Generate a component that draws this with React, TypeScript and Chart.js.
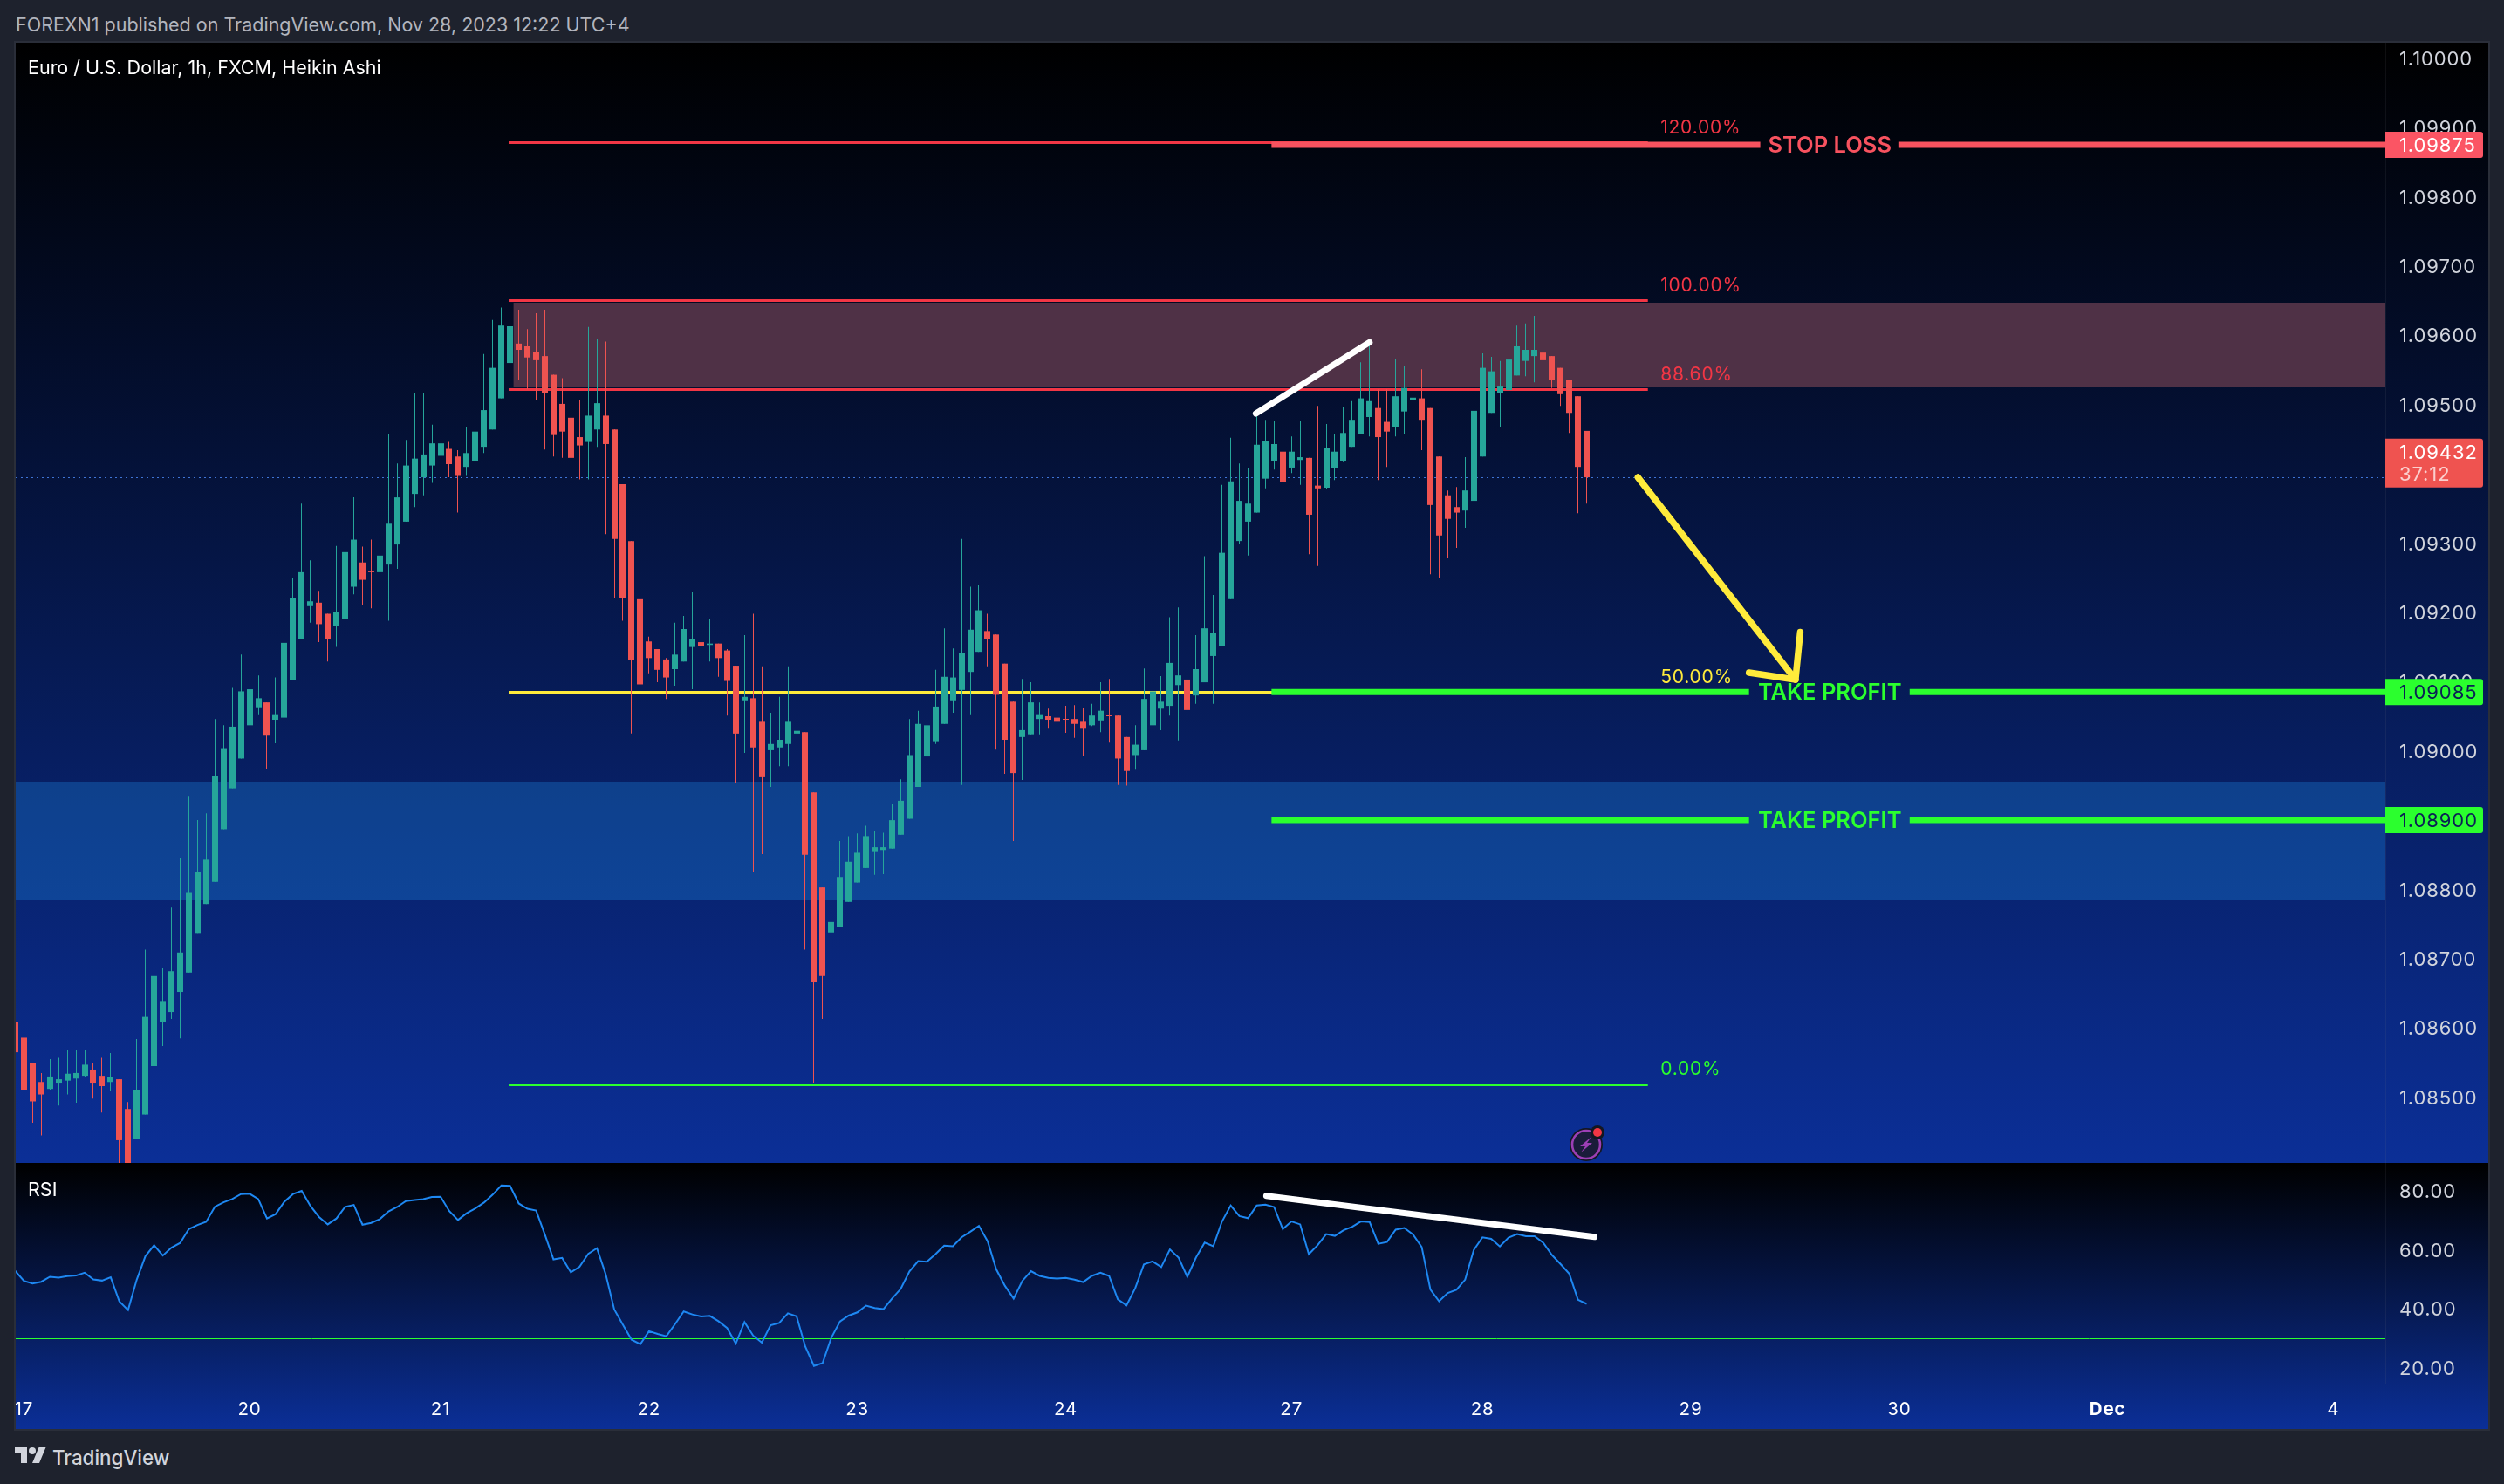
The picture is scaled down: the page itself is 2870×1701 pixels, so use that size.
import React, { useEffect, useRef } from "react";
import { Chart, registerables } from "chart.js";

Chart.register(...registerables);

const FONT = "Inter, 'Noto Sans', sans-serif";

const open = [
  1.08608,1.08586,1.08549,1.08522,1.08512,1.08521,1.08524,1.08527,1.08531,1.08540,
  1.08531,1.08522,1.08526,1.08483,1.08440,1.08475,1.08545,1.08609,1.08623,1.08652,
  1.08680,1.08736,1.08779,1.08811,1.08887,1.08946,1.08989,1.09037,1.09063,1.09070,
  1.09045,1.09048,1.09102,1.09161,1.09209,1.09214,1.09198,1.09180,1.09190,1.09237,
  1.09272,1.09260,1.09258,1.09269,1.09298,1.09331,1.09371,1.09395,1.09412,1.09426,
  1.09436,1.09425,1.09410,1.09419,1.09439,1.09464,1.09509,1.09560,1.09588,1.09584,
  1.09576,1.09570,1.09543,1.09501,1.09481,1.09453,1.09446,1.09464,1.09484,1.09464,
  1.09385,1.09303,1.09219,1.09158,1.09147,1.09132,1.09118,1.09129,1.09150,1.09157,
  1.09153,1.09155,1.09145,1.09123,1.09073,1.09076,1.09042,1.09001,1.09005,1.09010,
  1.09025,1.09027,1.08940,1.08803,1.08738,1.08746,1.08782,1.08810,1.08831,1.08854,
  1.08857,1.08859,1.08879,1.08902,1.08948,1.08992,1.09014,1.09039,1.09073,1.09088,
  1.09114,1.09143,1.09173,1.09168,1.09126,1.09071,1.09020,1.09024,1.09046,1.09050,
  1.09048,1.09046,1.09046,1.09042,1.09037,1.09044,1.09051,1.09051,1.09020,1.08994,
  1.09001,1.09037,1.09061,1.09065,1.09095,1.09103,1.09080,1.09099,1.09137,1.09152,
  1.09219,1.09303,1.09331,1.09344,1.09393,1.09419,1.09432,1.09409,1.09420,1.09423,
  1.09383,1.09380,1.09408,1.09419,1.09439,1.09458,1.09482,1.09495,1.09475,1.09467,
  1.09490,1.09506,1.09509,1.09495,1.09425,1.09369,1.09352,1.09347,1.09361,1.09425,
  1.09488,1.09517,1.09521,1.09542,1.09563,1.09570,1.09575,1.09570,1.09553,1.09535,1.09512,1.09462,
];
const close = [
  1.08565,1.08511,1.08494,1.08504,1.08530,1.08526,1.08534,1.08535,1.08547,1.08521,
  1.08516,1.08529,1.08438,1.08395,1.08511,1.08616,1.08675,1.08639,1.08682,1.08709,
  1.08795,1.08825,1.08843,1.08964,1.09004,1.09035,1.09086,1.09089,1.09076,1.09022,
  1.09053,1.09156,1.09221,1.09258,1.09216,1.09183,1.09162,1.09200,1.09287,1.09305,
  1.09247,1.09258,1.09282,1.09328,1.09366,1.09412,1.09422,1.09428,1.09444,1.09444,
  1.09414,1.09397,1.09430,1.09461,1.09492,1.09553,1.09614,1.09613,1.09579,1.09568,
  1.09564,1.09516,1.09456,1.09461,1.09423,1.09441,1.09484,1.09502,1.09443,1.09306,
  1.09221,1.09132,1.09096,1.09134,1.09117,1.09106,1.09139,1.09176,1.09161,1.09152,
  1.09155,1.09134,1.09101,1.09025,1.09078,1.09005,1.08962,1.09010,1.09016,1.09042,
  1.09029,1.08850,1.08666,1.08675,1.08753,1.08818,1.08840,1.08853,1.08877,1.08861,
  1.08861,1.08900,1.08928,1.08994,1.09039,1.09037,1.09064,1.09107,1.09106,1.09142,
  1.09175,1.09203,1.09162,1.09081,1.09016,1.08968,1.09030,1.09070,1.09053,1.09045,
  1.09042,1.09045,1.09039,1.09032,1.09051,1.09058,1.09050,1.08989,1.08971,1.09009,
  1.09075,1.09086,1.09071,1.09127,1.09109,1.09059,1.09118,1.09177,1.09170,1.09286,
  1.09389,1.09361,1.09357,1.09442,1.09448,1.09443,1.09388,1.09432,1.09424,1.09341,
  1.09379,1.09437,1.09432,1.09459,1.09478,1.09509,1.09505,1.09453,1.09461,1.09512,
  1.09524,1.09510,1.09478,1.09355,1.09311,1.09335,1.09344,1.09376,1.09491,1.09553,
  1.09548,1.09526,1.09565,1.09584,1.09579,1.09579,1.09564,1.09535,1.09515,1.09488,1.09410,1.09395,
];
const high = [
  1.08608,1.08586,1.08549,1.08535,1.08555,1.08557,1.08569,1.08568,1.08569,1.08549,
  1.08557,1.08564,1.08526,1.08493,1.08584,1.08713,1.08746,1.08686,1.08774,1.08846,
  1.08935,1.08900,1.08910,1.09046,1.09037,1.09091,1.09139,1.09106,1.09109,1.09070,
  1.09106,1.09237,1.09250,1.09357,1.09275,1.09231,1.09198,1.09296,1.09402,1.09366,
  1.09295,1.09305,1.09323,1.09458,1.09415,1.09449,1.09516,1.09517,1.09471,1.09476,
  1.09446,1.09434,1.09468,1.09521,1.09573,1.09622,1.09640,1.09651,1.09637,1.09609,
  1.09632,1.09637,1.09543,1.09538,1.09481,1.09507,1.09612,1.09594,1.09591,1.09464,
  1.09385,1.09303,1.09219,1.09165,1.09147,1.09134,1.09185,1.09195,1.09229,1.09201,
  1.09190,1.09155,1.09147,1.09123,1.09167,1.09198,1.09122,1.09055,1.09078,1.09122,
  1.09177,1.09027,1.08940,1.08803,1.08836,1.08870,1.08877,1.08881,1.08892,1.08885,
  1.08882,1.08924,1.08959,1.09046,1.09058,1.09053,1.09117,1.09177,1.09148,1.09306,
  1.09237,1.09240,1.09198,1.09168,1.09126,1.09071,1.09104,1.09099,1.09070,1.09061,
  1.09073,1.09065,1.09066,1.09062,1.09068,1.09099,1.09104,1.09051,1.09020,1.09037,
  1.09119,1.09117,1.09108,1.09193,1.09207,1.09103,1.09167,1.09281,1.09225,1.09384,
  1.09452,1.09415,1.09408,1.09484,1.09478,1.09476,1.09468,1.09454,1.09476,1.09423,
  1.09498,1.09472,1.09457,1.09497,1.09505,1.09561,1.09587,1.09522,1.09522,1.09565,
  1.09555,1.09551,1.09551,1.09495,1.09425,1.09376,1.09381,1.09424,1.09566,1.09574,
  1.09569,1.09563,1.09593,1.09614,1.09617,1.09628,1.09590,1.09570,1.09553,1.09535,1.09512,1.09462,
];
const low = [
  1.08565,1.08447,1.08463,1.08445,1.08511,1.08488,1.08504,1.08492,1.08530,1.08498,
  1.08478,1.08509,1.08390,1.08380,1.08440,1.08475,1.08545,1.08574,1.08613,1.08585,
  1.08680,1.08736,1.08779,1.08811,1.08887,1.08946,1.08989,1.09037,1.09053,1.08974,
  1.09011,1.09048,1.09102,1.09161,1.09185,1.09157,1.09129,1.09150,1.09185,1.09226,
  1.09211,1.09206,1.09244,1.09188,1.09263,1.09331,1.09352,1.09369,1.09387,1.09417,
  1.09395,1.09344,1.09397,1.09419,1.09430,1.09464,1.09509,1.09560,1.09536,1.09522,
  1.09507,1.09435,1.09425,1.09423,1.09389,1.09392,1.09392,1.09439,1.09313,1.09221,
  1.09188,1.09025,1.08999,1.09112,1.09099,1.09075,1.09094,1.09129,1.09089,1.09117,
  1.09129,1.09107,1.09051,1.08953,1.08997,1.08826,1.08851,1.08948,1.08978,1.08978,
  1.08910,1.08713,1.08521,1.08613,1.08687,1.08746,1.08782,1.08810,1.08831,1.08821,
  1.08822,1.08859,1.08879,1.08902,1.08948,1.08992,1.09010,1.09039,1.09055,1.08951,
  1.09053,1.09143,1.09122,1.09002,1.08967,1.08870,1.08958,1.09024,1.09024,1.09032,
  1.09032,1.09026,1.09019,1.08992,1.09036,1.09027,1.09012,1.08951,1.08950,1.08973,
  1.09001,1.09037,1.09030,1.09051,1.09015,1.09017,1.09068,1.09099,1.09068,1.09152,
  1.09219,1.09299,1.09282,1.09344,1.09379,1.09406,1.09327,1.09401,1.09384,1.09284,
  1.09267,1.09378,1.09391,1.09418,1.09439,1.09458,1.09454,1.09391,1.09410,1.09454,
  1.09457,1.09457,1.09434,1.09255,1.09249,1.09278,1.09293,1.09322,1.09361,1.09425,
  1.09488,1.09468,1.09521,1.09542,1.09541,1.09532,1.09542,1.09524,1.09498,1.09459,1.09343,1.09357,
];
const rsi = [
  53.0,49.6,48.7,49.3,51.0,50.7,51.2,51.4,52.4,50.1,49.7,50.8,42.6,39.7,50.0,58.0,61.7,58.2,60.9,62.5,
  67.2,68.6,69.7,74.8,76.3,77.4,79.1,79.2,77.4,70.8,72.3,76.5,79.1,80.2,75.1,71.3,68.8,70.8,74.7,75.4,
  68.7,69.3,70.6,73.2,74.7,76.7,77.1,77.4,78.1,78.2,73.3,70.3,72.6,74.2,76.2,78.9,82.0,81.9,75.9,74.1,
  73.5,65.4,56.9,57.4,52.5,54.4,58.8,60.7,52.0,39.9,34.7,29.6,28.1,32.5,31.6,30.8,34.9,39.2,38.2,37.5,
  37.7,35.9,33.6,28.3,35.6,31.0,28.6,34.5,35.3,38.6,37.6,27.3,20.7,21.7,30.3,35.8,37.8,38.9,41.2,40.4,
  40.0,43.6,46.9,52.8,56.3,56.1,58.7,61.6,61.4,64.4,66.3,68.3,63.1,53.5,47.9,43.6,49.6,52.9,51.3,50.6,
  50.4,50.6,50.0,49.2,51.3,52.4,51.3,43.3,41.3,47.1,55.2,56.2,54.3,60.3,57.5,51.0,57.5,62.6,61.4,69.8,
  75.2,71.6,70.9,75.2,75.5,74.7,67.2,69.8,68.8,58.7,61.7,65.5,64.9,66.8,68.0,69.8,69.6,62.2,62.8,67.0,
  67.6,65.4,61.1,46.7,42.7,45.5,46.6,50.0,60.1,64.4,63.9,61.3,64.3,65.5,64.8,64.8,62.6,58.4,55.3,52.0,43.2,41.8,
];

const dayTicks = [1, 27, 49, 73, 97, 121, 147, 169, 193, 217, 241, 267];
const dayLabels = ["17", "20", "21", "22", "23", "24", "27", "28", "29", "30", "Dec", "4"];

const X_MIN = 0.06;
const X_MAX = 272.99;
const PRICE_MIN = 1.084052;
const PRICE_MAX = 1.100223;
const RSI_MIN = 14.98;
const RSI_MAX = 89.67;

const fibValues = [1.09879, 1.09651, 1.09522, 1.09085, 1.08519];
const fibLabels = ["120.00%", "100.00%", "88.60%", "50.00%", "0.00%"];
const fibColors = ["#f23645", "#f23645", "#f23645", "#ffeb3b", "#2bff2e"];
const fibFrom = 56.84;
const fibTo = 188.05;
const fibLabelAt = 189.5;

const zoneRed = { from: 57.4, to: X_MAX, top: 1.09647, bottom: 1.09525 };
const zoneBlue = { from: X_MIN, to: X_MAX, top: 1.08956, bottom: 1.08784 };
const lastBarClose = 1.09395;

const tradeValues = [1.09875, 1.09085, 1.089];
const tradeLabels = ["STOP LOSS", "TAKE PROFIT", "TAKE PROFIT"];
const tradeColors = ["#f7525f", "#2bff2e", "#2bff2e"];
const tradeGaps = [[201.0, 216.9], [199.7, 218.2], [199.7, 218.2]];
const tradeFrom = 144.7;
const tradeLabelAt = 209.0;

const whiteUp = [[142.9, 1.09487], [156.0, 1.0959]];
const arrowShaft = [[186.9, 1.09395], [205.05, 1.09103]];
const arrowHead = [[199.7, 1.09113], [205.05, 1.09103], [205.6, 1.091715]];
const rsiDivergence = [[144.1, 78.47], [181.9, 64.55]];
const rsiBands = [70, 30];
const rsiBandColors = ["#d98a94", "#2bff2e"];

const tagValues = [1.09875, 1.09085, 1.089];
const tagColors = ["#fb5564", "#2bff2e", "#2bff2e"];
const tagText = ["#ffffff", "#0a1f55", "#0a1f55"];
const lastPrice = 1.09432;
const countdown = "37:12";

const snapBars = {
  id: "snapBars",
  afterDatasetsUpdate(chart: any) {
    chart.data.datasets.forEach((_: any, i: number) => {
      const meta = chart.getDatasetMeta(i);
      if (meta.type === "bar") meta.data.forEach((el: any) => { el.x = Math.floor(el.x) + 0.5; });
    });
  },
};

const tickNudge = {
  id: "tickNudge",
  beforeDraw(chart: any, _args: any, opts: any) {
    chart.ctx.letterSpacing = "0.9px";
    Object.keys(chart.scales).forEach((id) => {
      const dy = id === "x" ? 1.5 : opts.yShift;
      const s = chart.scales[id];
      if (!s.options.display) return;
      s.getLabelItems(chart.chartArea).forEach((it: any) => { it.options.translation[1] += dy; });
    });
  },
};

function polyline(ctx: any, sx: any, sy: any, pts: number[][], color: string, width: number, cap = "round") {
  ctx.save();
  ctx.strokeStyle = color;
  ctx.lineWidth = width;
  ctx.lineCap = cap;
  ctx.lineJoin = "round";
  ctx.beginPath();
  pts.forEach(([a, b], i) => {
    const x = sx.getPixelForValue(a);
    const y = sy.getPixelForValue(b);
    if (i === 0) ctx.moveTo(x, y); else ctx.lineTo(x, y);
  });
  ctx.stroke();
  ctx.restore();
}

const pricePlugin = {
  id: "pricePlugin",
  beforeDatasetsDraw(chart: any) {
    const { ctx, scales: { x, y }, chartArea } = chart;
    ctx.save();
    ctx.beginPath();
    ctx.rect(chartArea.left, chartArea.top, chartArea.width, chartArea.height);
    ctx.clip();
    [[zoneRed, "#4f3146"], [zoneBlue, "rgba(33,150,243,0.28)"]].forEach(([z, c]: any) => {
      ctx.fillStyle = c;
      const t = Math.round(y.getPixelForValue(z.top));
      const b = Math.round(y.getPixelForValue(z.bottom));
      const l = x.getPixelForValue(z.from);
      ctx.fillRect(l, t, x.getPixelForValue(z.to) - l, b - t);
    });
    ctx.strokeStyle = "#3f74d6";
    ctx.lineWidth = 1;
    ctx.setLineDash([2, 4]);
    const py = Math.round(y.getPixelForValue(lastBarClose)) + 0.5;
    ctx.beginPath();
    ctx.moveTo(chartArea.left, py);
    ctx.lineTo(chartArea.right, py);
    ctx.stroke();
    ctx.setLineDash([]);
    fibValues.forEach((v, i) => {
      const fy = Math.round(y.getPixelForValue(v)) + 0.5;
      ctx.strokeStyle = fibColors[i];
      ctx.lineWidth = 3;
      ctx.beginPath();
      ctx.moveTo(x.getPixelForValue(fibFrom), fy);
      ctx.lineTo(x.getPixelForValue(fibTo), fy);
      ctx.stroke();
    });
    ctx.restore();
  },
  afterDatasetsDraw(chart: any) {
    const { ctx, scales: { x, y } } = chart;
    ctx.save();
    ctx.textBaseline = "middle";
    fibValues.forEach((v, i) => {
      ctx.fillStyle = fibColors[i];
      ctx.font = `21px ${FONT}`;
      ctx.letterSpacing = "0.8px";
      ctx.textAlign = "left";
      ctx.fillText(fibLabels[i], x.getPixelForValue(fibLabelAt), y.getPixelForValue(v) - 16.5);
    });
    ctx.letterSpacing = "0px";
    tradeValues.forEach((v, i) => {
      polyline(ctx, x, y, [[tradeFrom, v], [tradeGaps[i][0], v]], tradeColors[i], 7, "butt");
      polyline(ctx, x, y, [[tradeGaps[i][1], v], [X_MAX + 1, v]], tradeColors[i], 7, "butt");
      ctx.fillStyle = tradeColors[i];
      ctx.font = `600 25.5px ${FONT}`;
      ctx.textAlign = "center";
      ctx.fillText(tradeLabels[i], x.getPixelForValue(tradeLabelAt), y.getPixelForValue(v) + 1);
    });
    polyline(ctx, x, y, whiteUp, "#ffffff", 7);
    polyline(ctx, x, y, arrowShaft, "#ffeb3b", 7.5);
    polyline(ctx, x, y, arrowHead, "#ffeb3b", 7.5);
    ctx.restore();
  },
  afterDraw(chart: any) {
    const { ctx, scales: { y }, chartArea } = chart;
    const left = chartArea.right;
    const w = 112;
    ctx.save();
    ctx.textBaseline = "middle";
    ctx.textAlign = "left";
    ctx.font = `22px ${FONT}`;
    ctx.letterSpacing = "0.9px";
    tagValues.forEach((v, i) => {
      const cy = y.getPixelForValue(v);
      ctx.fillStyle = tagColors[i];
      ctx.beginPath();
      ctx.roundRect(left, cy - 15, w, 30, [0, 3, 3, 0]);
      ctx.fill();
      ctx.fillStyle = tagText[i];
      ctx.fillText(v.toFixed(5), left + 16, cy + 1.5);
    });
    const ly = y.getPixelForValue(lastPrice);
    ctx.fillStyle = "#ef5350";
    ctx.beginPath();
    ctx.roundRect(left, ly - 15, w, 56, [0, 3, 3, 0]);
    ctx.fill();
    ctx.fillStyle = "#ffffff";
    ctx.fillText(lastPrice.toFixed(5), left + 16, ly + 1.5);
    ctx.fillStyle = "rgba(255,255,255,0.72)";
    ctx.fillText(countdown, left + 16, ly + 26.5);
    ctx.restore();
  },
};

const rsiPlugin = {
  id: "rsiPlugin",
  beforeDatasetsDraw(chart: any) {
    const { ctx, scales: { y }, chartArea } = chart;
    ctx.save();
    rsiBands.forEach((v, i) => {
      const py = Math.round(y.getPixelForValue(v)) + 0.5;
      ctx.strokeStyle = rsiBandColors[i];
      ctx.lineWidth = 1;
      ctx.beginPath();
      ctx.moveTo(chartArea.left, py);
      ctx.lineTo(chartArea.right, py);
      ctx.stroke();
    });
    ctx.restore();
  },
  afterDatasetsDraw(chart: any) {
    const { ctx, scales: { x, y } } = chart;
    polyline(ctx, x, y, rsiDivergence, "#ffffff", 7);
  },
};

const fitY = (s: any) => { s.width = 118; s.paddingTop = 0; s.paddingBottom = 0; };
const yTickStyle = { color: "#d1d4dc", font: { family: FONT, size: 22 }, padding: 16, crossAlign: "near", includeBounds: false };

export default function App() {
  const mainRef = useRef<HTMLCanvasElement>(null);
  const rsiRef = useRef<HTMLCanvasElement>(null);

  useEffect(() => {
    const colors = open.map((o, i) => (close[i] >= o ? "#26a69a" : "#ef5350"));
    const main = new Chart(mainRef.current as any, {
      type: "bar",
      data: {
        datasets: [
          {
            data: open.map((_, i) => ({ x: i, y: [low[i], high[i]] })) as any,
            backgroundColor: colors,
            barThickness: 1,
            grouped: false,
            inflateAmount: 0,
            order: 2,
          } as any,
          {
            data: open.map((o, i) => ({ x: i, y: [o, close[i]] })) as any,
            backgroundColor: colors,
            barThickness: 7,
            grouped: false,
            inflateAmount: 0,
            minBarLength: 1,
            order: 1,
          } as any,
        ],
      },
      options: {
        responsive: false,
        animation: false,
        devicePixelRatio: 1,
        layout: { padding: 0 },
        plugins: { legend: { display: false }, tooltip: { enabled: false }, tickNudge: { yShift: 1.5 } },
        scales: {
          x: { type: "linear", offset: false, min: X_MIN, max: X_MAX, display: false },
          y: {
            type: "linear",
            position: "right",
            min: PRICE_MIN,
            max: PRICE_MAX,
            grid: { display: false, drawTicks: false },
            border: { display: true, color: "rgba(120,123,134,0.12)" },
            afterFit: fitY,
            ticks: { ...yTickStyle, stepSize: 0.001, autoSkip: false, callback: (v: any) => Number(v).toFixed(5) },
          },
        },
      } as any,
      plugins: [snapBars, tickNudge, pricePlugin] as any,
    });

    const lower = new Chart(rsiRef.current as any, {
      type: "line",
      data: {
        datasets: [
          {
            data: rsi.map((y, x) => ({ x, y })) as any,
            borderColor: "#1e88f2",
            borderWidth: 2,
            pointRadius: 0,
            tension: 0,
          },
        ],
      },
      options: {
        responsive: false,
        animation: false,
        devicePixelRatio: 1,
        layout: { padding: 0 },
        plugins: { legend: { display: false }, tooltip: { enabled: false }, tickNudge: { yShift: 1 } },
        scales: {
          x: {
            type: "linear",
            min: X_MIN,
            max: X_MAX,
            offset: false,
            grid: { display: false, drawTicks: false },
            border: { display: false },
            afterBuildTicks: (s: any) => { s.ticks = dayTicks.map((value) => ({ value })); },
            afterFit: (s: any) => { s.height = 53; s.paddingLeft = 0; s.paddingRight = 0; },
            ticks: {
              color: "#ffffff",
              autoSkip: false,
              maxRotation: 0,
              minRotation: 0,
              padding: 17,
              font: (c: any) => ({ family: FONT, size: 20.5, weight: c.tick && dayLabels[dayTicks.indexOf(c.tick.value)] === "Dec" ? "700" : "400" }),
              callback: (v: any) => dayLabels[dayTicks.indexOf(v)],
            },
          },
          y: {
            type: "linear",
            position: "right",
            min: RSI_MIN,
            max: RSI_MAX,
            grid: { display: false, drawTicks: false },
            border: { display: true, color: "rgba(120,123,134,0.12)" },
            afterFit: fitY,
            ticks: { ...yTickStyle, stepSize: 20, callback: (v: any) => Number(v).toFixed(2) },
          },
        },
      } as any,
      plugins: [tickNudge, rsiPlugin] as any,
    });

    return () => { main.destroy(); lower.destroy(); };
  }, []);

  const text = (left: number, top: number, color: string, size: number, s: string, extra: any = {}) => (
    <div style={{ position: "absolute", left, top, color, fontFamily: FONT, fontSize: size, lineHeight: `${Math.round(size) + 4}px`, whiteSpace: "nowrap", ...extra }}>{s}</div>
  );

  const paneGradient = "linear-gradient(180deg,#000000 0%,#0b2f97 100%)";

  return (
    <div style={{ position: "absolute", left: 0, top: 0, width: 2870, height: 1701, background: "#1e222d", overflow: "hidden" }}>
      <div style={{ position: "absolute", left: 16, top: 47, width: 2838, height: 1593, background: "#2a2e39" }} />
      <canvas ref={mainRef} width={2834} height={1284} style={{ position: "absolute", left: 18, top: 49, background: paneGradient }} />
      <canvas ref={rsiRef} width={2834} height={305} style={{ position: "absolute", left: 18, top: 1333, background: paneGradient }} />
      {text(18, 15, "#b2b5be", 21.5, "FOREXN1 published on TradingView.com, Nov 28, 2023 12:22 UTC+4")}
      {text(32, 64, "#ffffff", 21.5, "Euro / U.S. Dollar, 1h, FXCM, Heikin Ashi")}
      {text(32, 1350, "#ffffff", 21.5, "RSI")}
      <svg width="36" height="28" viewBox="0 0 36 28" style={{ position: "absolute", left: 17, top: 1655 }}>
        <path d="M14 22H7V11H0V4h14v18zM28 22h-8l7.5-18h8L28 22z" fill="#d1d4dc" />
        <circle cx="20" cy="8" r="4" fill="#d1d4dc" />
      </svg>
      {text(60, 1658, "#d1d4dc", 22.4, "TradingView", { fontWeight: 500 })}
      <svg width="60" height="60" viewBox="0 0 60 60" style={{ position: "absolute", left: 1790, top: 1280 }}>
        <circle cx="28" cy="32" r="19" fill="#131722" />
        <circle cx="28" cy="32" r="16" fill="#1a1c3a" stroke="#9c3fb5" strokeWidth="2.6" />
        <path d="M34 23 L21 34 H27 L22 41 L35 30 H29 Z" fill="#9c3fb5" />
        <circle cx="41" cy="18" r="8" fill="#131722" />
        <circle cx="41" cy="18" r="5" fill="#f23645" />
      </svg>
    </div>
  );
}
